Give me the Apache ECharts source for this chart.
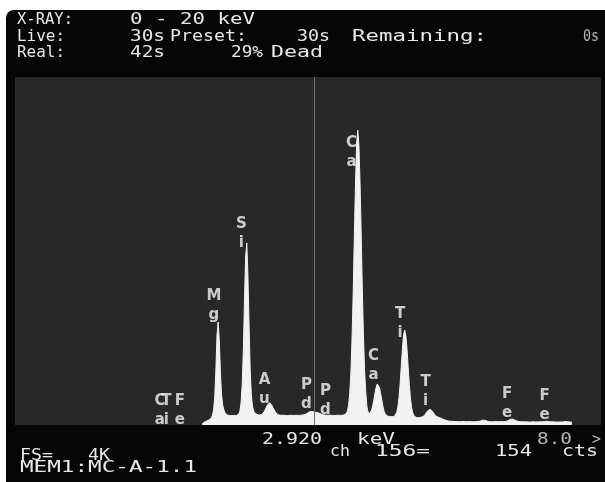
<!DOCTYPE html>
<html><head><meta charset="utf-8">
<script src="https://cdn.jsdelivr.net/npm/echarts@6/dist/echarts.min.js"></script>
<style>html,body{margin:0;padding:0;background:#fff}#c{width:605px;height:482px}</style>
</head><body><div id="c"></div><script>
// Spectrum: counts per 0.02 keV channel, starting at 0.96 keV
const startKeV = 0.96;
const keVPerChannel = 0.02;
const counts = [
  12, 24, 35, 41, 47, 53, 59, 65, 82, 118,            // 0.96-1.14
  177, 330, 647, 1059, 1212, 1000, 612, 353, 235, 177, // 1.16-1.34 Mg
  141, 124, 118, 116, 113, 112, 110, 111, 113, 112,    // 1.36-1.54
  112, 118, 129, 165, 259, 471, 883, 1471, 1977, 2142, // 1.56-1.74 Si
  1766, 1177, 647, 353, 224, 165, 141, 129, 124, 118,  // 1.76-1.94
  118, 116, 124, 135, 153, 177, 206, 235, 253, 262,    // 1.96-2.14 Au
  253, 230, 200, 177, 153, 135, 124, 118, 115, 113,    // 2.16-2.34
  114, 112, 115, 113, 111, 114, 112, 113, 115, 112,    // 2.36-2.54
  113, 111, 114, 112, 113, 115, 114, 116, 118, 121,    // 2.56-2.74
  124, 129, 139, 148, 157, 160, 159, 157, 154, 151,    // 2.76-2.94 Pd
  148, 146, 141, 135, 129, 124, 120, 118, 116, 115,    // 2.96-3.14
  114, 113, 115, 112, 113, 114, 112, 113, 115, 113,    // 3.16-3.34
  114, 112, 114, 115, 118, 124, 137, 168, 235, 383,    // 3.36-3.54
  624, 1036, 1565, 2236, 2837, 3319, 3472, 3284, 2837, 2236, // 3.56-3.74 Ca
  1565, 1036, 624, 383, 212, 153, 129, 141, 173, 226,  // 3.76-3.94
  293, 374, 441, 483, 483, 441, 368, 293, 218, 160,    // 3.96-4.14 Ca Kb
  128, 113, 106, 101, 99, 98, 98, 99, 102, 117,        // 4.16-4.34
  148, 212, 322, 485, 691, 899, 1059, 1118, 1053, 895, // 4.36-4.54 Ti
  686, 480, 318, 207, 144, 112, 97, 89, 87, 86,        // 4.56-4.74
  88, 90, 92, 99, 109, 126, 146, 165, 180, 185,        // 4.76-4.94 Ti Kb
  180, 165, 146, 126, 106, 99, 94, 89, 85, 78,         // 4.96-5.14
  71, 65, 59, 55, 51, 48, 46, 45, 44, 43,              // 5.16-5.34
  42, 41, 42, 40, 41, 39, 40, 41, 39, 40,              // 5.36-5.54
  41, 39, 38, 40, 41, 39, 40, 38, 39, 41,              // 5.56-5.74
  40, 41, 42, 46, 51, 56, 59, 56, 51, 46,              // 5.76-5.94
  42, 40, 39, 38, 40, 39, 38, 40, 39, 38,              // 5.96-6.14
  39, 40, 38, 39, 40, 41, 45, 49, 56, 64,              // 6.16-6.34 Fe
  69, 71, 67, 60, 53, 47, 42, 40, 39, 38,              // 6.36-6.54
  37, 38, 36, 37, 35, 36, 37, 35, 36, 38,              // 6.56-6.74
  37, 36, 35, 36, 37, 38, 36, 37, 38, 41,              // 6.76-6.94
  44, 45, 43, 40, 38, 37, 36, 37, 36, 35,              // 6.96-7.14
  36, 35, 37, 36, 35, 36, 38, 40, 41, 40,              // 7.16-7.34
  38, 36, 35, 34                                       // 7.36-7.42
];

// Element labels
const peakLabels = ['Ca', 'Ti', 'Fe', 'Mg', 'Si', 'Au', 'Pd', 'Pd', 'Ca', 'Ca', 'Ti', 'Ti', 'Fe', 'Fe'];
const labelKeV   = [0.222, 0.336, 0.572, 1.166, 1.647, 2.049, 2.783, 3.115, 3.570, 3.955, 4.418, 4.864, 6.288, 6.944];
const labelCounts = [171, 171, 171, 1401, 2254, 412, 353, 282, 3207, 694, 1189, 388, 247, 224];

const cursorKeV = 2.92;
const axisMinKeV = -2.31, axisMaxKeV = 7.93;
const fullScale = 4096;

// Screen texts: [text, left x, centre y, drawn width]
const screenTexts = [
  ['X-RAY:', 17, 20, 56], ['0 - 20 keV', 130, 20, 125],
  ['Live:', 17, 37, 48], ['30s', 130, 37, 35], ['Preset:', 170, 37, 77], ['30s', 297, 37, 33], ['Remaining:', 352, 37, 135], ['0s', 583, 37, 16],
  ['Real:', 17, 53.5, 48], ['42s', 130, 53.5, 35], ['29%', 231, 53.5, 32], ['Dead', 271, 53.5, 52],
  ['2.920', 262, 440, 60], ['keV', 357, 440, 38], ['8.0', 537, 440, 35], ['>', 592, 440, 9],
  ['ch', 330, 452.5, 20], ['156=', 375, 452.5, 55], ['154', 495, 452.5, 37], ['cts', 562, 452.5, 36],
  ['FS=', 20, 456, 33], ['4K', 88, 456, 22], ['MEM1:MC-A-1.1', 20, 468.5, 177]
];

const chart = echarts.init(document.getElementById('c'), null, {renderer: 'canvas'});
const spectrum = counts.map((c, i) => [startKeV + i * keVPerChannel, c]);

const glyphAdvance = 9.03; // DejaVu Sans Mono at 15px
const graphics = [
  { type: 'rect', z: -10, shape: { x: 6, y: 10, width: 599, height: 472, r: [8, 0, 0, 0] }, style: { fill: '#060606' } }
];
screenTexts.forEach(([t, x, y, w]) => {
  graphics.push({
    type: 'text', x: x, y: y, scaleX: w / (t.length * glyphAdvance), z: 10,
    style: {
      text: t, fill: ((t === '>' || t === '8.0' || t === '0s') ? '#b4b4b4' : '#e8e8e8'),
      font: '15px "DejaVu Sans Mono"', align: 'left', verticalAlign: 'middle',
      shadowColor: 'rgba(255,255,255,0.35)', shadowBlur: 2
    }
  });
});

chart.setOption({
  animation: false,
  backgroundColor: '#ffffff',
  graphic: graphics,
  grid: { left: 15, right: 4, top: 77, bottom: 57, show: true, backgroundColor: '#282828', borderWidth: 0 },
  xAxis: { type: 'value', min: axisMinKeV, max: axisMaxKeV, show: false },
  yAxis: { type: 'value', min: 0, max: fullScale, show: false },
  series: [
    {
      type: 'line', data: spectrum, symbol: 'none', smooth: false,
      lineStyle: { color: '#f2f2f2', width: 1 },
      areaStyle: { color: '#f2f2f2', opacity: 1 },
      markLine: {
        silent: true, symbol: 'none', label: { show: false },
        lineStyle: { color: '#707070', width: 1, type: 'solid' },
        data: [{ xAxis: cursorKeV }]
      }
    },
    {
      type: 'scatter', symbol: 'circle', symbolSize: 1,
      itemStyle: { color: 'rgba(0,0,0,0)' },
      data: peakLabels.map((n, i) => ({ name: n, value: [labelKeV[i], labelCounts[i]] })),
      label: {
        show: true, position: 'inside', color: '#f4f4f4',
        fontFamily: 'DejaVu Sans', fontWeight: 'bold', fontSize: 15, lineHeight: 19,
        formatter: p => p.name.split('').join('\n')
      }
    }
  ]
});
</script></body></html>
